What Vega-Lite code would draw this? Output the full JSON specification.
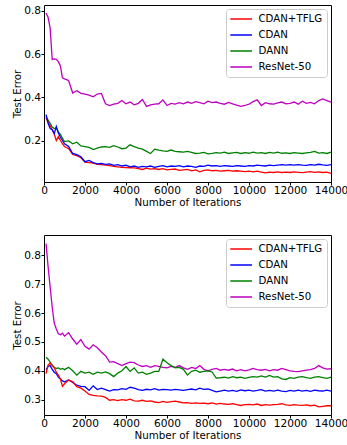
{
"$schema": "https://vega.github.io/schema/vega-lite/v6.json",
"padding": {"left": 12, "top": 4, "right": 0, "bottom": 0},
"config": {
  "font": "DejaVu Sans",
  "view": {"stroke": "#000", "strokeWidth": 1},
  "axis": {"domain": false, "grid": false, "tickColor": "#000", "tickSize": 3, "labelColor": "#000", "labelFontSize": 10.6, "labelPadding": 0.5, "titleColor": "#000", "titleFontSize": 10.3, "titleFontWeight": "normal"},
  "legend": {"orient": "top-right", "offset": 4.2, "fillColor": "#fff", "strokeColor": "#ccc", "cornerRadius": 3, "padding": 4, "symbolType": "M-1.14,0H3.2", "symbolSize": 100, "symbolStrokeWidth": 1.5, "labelFontSize": 10.2, "labelColor": "#000", "labelOffset": 16.5, "rowPadding": 4, "title": null}
},
"datasets": {
"top": [
{"method":"ResNet-50","iter":100,"err":0.790},{"method":"ResNet-50","iter":200,"err":0.770},{"method":"ResNet-50","iter":300,"err":0.720},{"method":"ResNet-50","iter":400,"err":0.575},{"method":"ResNet-50","iter":500,"err":0.578},{"method":"ResNet-50","iter":600,"err":0.576},{"method":"ResNet-50","iter":700,"err":0.565},{"method":"ResNet-50","iter":800,"err":0.545},{"method":"ResNet-50","iter":900,"err":0.490},{"method":"ResNet-50","iter":1000,"err":0.485},
{"method":"ResNet-50","iter":1200,"err":0.478},{"method":"ResNet-50","iter":1400,"err":0.420},{"method":"ResNet-50","iter":1600,"err":0.430},{"method":"ResNet-50","iter":1800,"err":0.418},{"method":"ResNet-50","iter":2000,"err":0.415},{"method":"ResNet-50","iter":2200,"err":0.410},{"method":"ResNet-50","iter":2400,"err":0.402},{"method":"ResNet-50","iter":2600,"err":0.415},{"method":"ResNet-50","iter":2800,"err":0.418},{"method":"ResNet-50","iter":3000,"err":0.370},
{"method":"ResNet-50","iter":3200,"err":0.362},{"method":"ResNet-50","iter":3400,"err":0.368},{"method":"ResNet-50","iter":3600,"err":0.372},{"method":"ResNet-50","iter":3800,"err":0.385},{"method":"ResNet-50","iter":4000,"err":0.370},{"method":"ResNet-50","iter":4200,"err":0.378},{"method":"ResNet-50","iter":4400,"err":0.365},{"method":"ResNet-50","iter":4600,"err":0.372},{"method":"ResNet-50","iter":4800,"err":0.390},{"method":"ResNet-50","iter":5000,"err":0.358},
{"method":"ResNet-50","iter":5200,"err":0.365},{"method":"ResNet-50","iter":5400,"err":0.368},{"method":"ResNet-50","iter":5600,"err":0.370},{"method":"ResNet-50","iter":5800,"err":0.388},{"method":"ResNet-50","iter":6000,"err":0.362},{"method":"ResNet-50","iter":6200,"err":0.372},{"method":"ResNet-50","iter":6400,"err":0.368},{"method":"ResNet-50","iter":6600,"err":0.375},{"method":"ResNet-50","iter":6800,"err":0.370},{"method":"ResNet-50","iter":7000,"err":0.378},
{"method":"ResNet-50","iter":7200,"err":0.372},{"method":"ResNet-50","iter":7400,"err":0.380},{"method":"ResNet-50","iter":7600,"err":0.375},{"method":"ResNet-50","iter":7800,"err":0.370},{"method":"ResNet-50","iter":8000,"err":0.382},{"method":"ResNet-50","iter":8200,"err":0.375},{"method":"ResNet-50","iter":8400,"err":0.378},{"method":"ResNet-50","iter":8600,"err":0.372},{"method":"ResNet-50","iter":8800,"err":0.368},{"method":"ResNet-50","iter":9000,"err":0.376},
{"method":"ResNet-50","iter":9200,"err":0.370},{"method":"ResNet-50","iter":9400,"err":0.364},{"method":"ResNet-50","iter":9600,"err":0.358},{"method":"ResNet-50","iter":9800,"err":0.362},{"method":"ResNet-50","iter":10000,"err":0.368},{"method":"ResNet-50","iter":10200,"err":0.380},{"method":"ResNet-50","iter":10400,"err":0.388},{"method":"ResNet-50","iter":10600,"err":0.362},{"method":"ResNet-50","iter":10800,"err":0.375},{"method":"ResNet-50","iter":11000,"err":0.370},
{"method":"ResNet-50","iter":11200,"err":0.368},{"method":"ResNet-50","iter":11400,"err":0.374},{"method":"ResNet-50","iter":11600,"err":0.378},{"method":"ResNet-50","iter":11800,"err":0.370},{"method":"ResNet-50","iter":12000,"err":0.372},{"method":"ResNet-50","iter":12200,"err":0.378},{"method":"ResNet-50","iter":12400,"err":0.368},{"method":"ResNet-50","iter":12600,"err":0.382},{"method":"ResNet-50","iter":12800,"err":0.372},{"method":"ResNet-50","iter":13000,"err":0.376},
{"method":"ResNet-50","iter":13200,"err":0.370},{"method":"ResNet-50","iter":13400,"err":0.385},{"method":"ResNet-50","iter":13600,"err":0.392},{"method":"ResNet-50","iter":13800,"err":0.385},{"method":"ResNet-50","iter":14000,"err":0.378},

{"method":"DANN","iter":100,"err":0.310},{"method":"DANN","iter":200,"err":0.295},{"method":"DANN","iter":300,"err":0.280},{"method":"DANN","iter":400,"err":0.262},{"method":"DANN","iter":500,"err":0.255},{"method":"DANN","iter":600,"err":0.258},{"method":"DANN","iter":700,"err":0.240},{"method":"DANN","iter":800,"err":0.228},{"method":"DANN","iter":900,"err":0.210},{"method":"DANN","iter":1000,"err":0.195},
{"method":"DANN","iter":1200,"err":0.198},{"method":"DANN","iter":1400,"err":0.185},{"method":"DANN","iter":1600,"err":0.192},{"method":"DANN","iter":1800,"err":0.175},{"method":"DANN","iter":2000,"err":0.172},{"method":"DANN","iter":2200,"err":0.168},{"method":"DANN","iter":2400,"err":0.158},{"method":"DANN","iter":2600,"err":0.165},{"method":"DANN","iter":2800,"err":0.170},{"method":"DANN","iter":3000,"err":0.172},
{"method":"DANN","iter":3200,"err":0.168},{"method":"DANN","iter":3400,"err":0.176},{"method":"DANN","iter":3600,"err":0.170},{"method":"DANN","iter":3800,"err":0.162},{"method":"DANN","iter":4000,"err":0.165},{"method":"DANN","iter":4200,"err":0.180},{"method":"DANN","iter":4400,"err":0.172},{"method":"DANN","iter":4600,"err":0.165},{"method":"DANN","iter":4800,"err":0.160},{"method":"DANN","iter":5000,"err":0.150},
{"method":"DANN","iter":5200,"err":0.140},{"method":"DANN","iter":5400,"err":0.160},{"method":"DANN","iter":5600,"err":0.155},{"method":"DANN","iter":5800,"err":0.152},{"method":"DANN","iter":6000,"err":0.150},{"method":"DANN","iter":6200,"err":0.156},{"method":"DANN","iter":6400,"err":0.150},{"method":"DANN","iter":6600,"err":0.148},{"method":"DANN","iter":6800,"err":0.146},{"method":"DANN","iter":7000,"err":0.150},
{"method":"DANN","iter":7200,"err":0.145},{"method":"DANN","iter":7400,"err":0.140},{"method":"DANN","iter":7600,"err":0.142},{"method":"DANN","iter":7800,"err":0.145},{"method":"DANN","iter":8000,"err":0.138},{"method":"DANN","iter":8200,"err":0.140},{"method":"DANN","iter":8400,"err":0.144},{"method":"DANN","iter":8600,"err":0.142},{"method":"DANN","iter":8800,"err":0.146},{"method":"DANN","iter":9000,"err":0.140},
{"method":"DANN","iter":9200,"err":0.143},{"method":"DANN","iter":9400,"err":0.145},{"method":"DANN","iter":9600,"err":0.140},{"method":"DANN","iter":9800,"err":0.144},{"method":"DANN","iter":10000,"err":0.141},{"method":"DANN","iter":10200,"err":0.146},{"method":"DANN","iter":10400,"err":0.142},{"method":"DANN","iter":10600,"err":0.144},{"method":"DANN","iter":10800,"err":0.140},{"method":"DANN","iter":11000,"err":0.145},
{"method":"DANN","iter":11200,"err":0.142},{"method":"DANN","iter":11400,"err":0.146},{"method":"DANN","iter":11600,"err":0.141},{"method":"DANN","iter":11800,"err":0.143},{"method":"DANN","iter":12000,"err":0.140},{"method":"DANN","iter":12200,"err":0.144},{"method":"DANN","iter":12400,"err":0.142},{"method":"DANN","iter":12600,"err":0.140},{"method":"DANN","iter":12800,"err":0.143},{"method":"DANN","iter":13000,"err":0.145},
{"method":"DANN","iter":13200,"err":0.150},{"method":"DANN","iter":13400,"err":0.142},{"method":"DANN","iter":13600,"err":0.144},{"method":"DANN","iter":13800,"err":0.140},{"method":"DANN","iter":14000,"err":0.146},

{"method":"CDAN+TFLG","iter":100,"err":0.305},{"method":"CDAN+TFLG","iter":200,"err":0.285},{"method":"CDAN+TFLG","iter":300,"err":0.268},{"method":"CDAN+TFLG","iter":400,"err":0.250},{"method":"CDAN+TFLG","iter":500,"err":0.230},{"method":"CDAN+TFLG","iter":600,"err":0.200},{"method":"CDAN+TFLG","iter":700,"err":0.218},{"method":"CDAN+TFLG","iter":800,"err":0.200},{"method":"CDAN+TFLG","iter":900,"err":0.185},{"method":"CDAN+TFLG","iter":1000,"err":0.172},
{"method":"CDAN+TFLG","iter":1200,"err":0.162},{"method":"CDAN+TFLG","iter":1400,"err":0.135},{"method":"CDAN+TFLG","iter":1600,"err":0.130},{"method":"CDAN+TFLG","iter":1800,"err":0.120},{"method":"CDAN+TFLG","iter":2000,"err":0.100},{"method":"CDAN+TFLG","iter":2200,"err":0.098},{"method":"CDAN+TFLG","iter":2400,"err":0.095},{"method":"CDAN+TFLG","iter":2600,"err":0.090},{"method":"CDAN+TFLG","iter":2800,"err":0.088},{"method":"CDAN+TFLG","iter":3000,"err":0.086},
{"method":"CDAN+TFLG","iter":3200,"err":0.084},{"method":"CDAN+TFLG","iter":3400,"err":0.080},{"method":"CDAN+TFLG","iter":3600,"err":0.078},{"method":"CDAN+TFLG","iter":3800,"err":0.076},{"method":"CDAN+TFLG","iter":4000,"err":0.075},{"method":"CDAN+TFLG","iter":4200,"err":0.074},{"method":"CDAN+TFLG","iter":4400,"err":0.073},{"method":"CDAN+TFLG","iter":4600,"err":0.070},{"method":"CDAN+TFLG","iter":4800,"err":0.066},{"method":"CDAN+TFLG","iter":5000,"err":0.072},
{"method":"CDAN+TFLG","iter":5200,"err":0.068},{"method":"CDAN+TFLG","iter":5400,"err":0.070},{"method":"CDAN+TFLG","iter":5600,"err":0.066},{"method":"CDAN+TFLG","iter":5800,"err":0.070},{"method":"CDAN+TFLG","iter":6000,"err":0.064},{"method":"CDAN+TFLG","iter":6200,"err":0.066},{"method":"CDAN+TFLG","iter":6400,"err":0.068},{"method":"CDAN+TFLG","iter":6600,"err":0.062},{"method":"CDAN+TFLG","iter":6800,"err":0.064},{"method":"CDAN+TFLG","iter":7000,"err":0.066},
{"method":"CDAN+TFLG","iter":7200,"err":0.060},{"method":"CDAN+TFLG","iter":7400,"err":0.064},{"method":"CDAN+TFLG","iter":7600,"err":0.055},{"method":"CDAN+TFLG","iter":7800,"err":0.062},{"method":"CDAN+TFLG","iter":8000,"err":0.064},{"method":"CDAN+TFLG","iter":8200,"err":0.060},{"method":"CDAN+TFLG","iter":8400,"err":0.062},{"method":"CDAN+TFLG","iter":8600,"err":0.058},{"method":"CDAN+TFLG","iter":8800,"err":0.060},{"method":"CDAN+TFLG","iter":9000,"err":0.062},
{"method":"CDAN+TFLG","iter":9200,"err":0.058},{"method":"CDAN+TFLG","iter":9400,"err":0.060},{"method":"CDAN+TFLG","iter":9600,"err":0.058},{"method":"CDAN+TFLG","iter":9800,"err":0.056},{"method":"CDAN+TFLG","iter":10000,"err":0.058},{"method":"CDAN+TFLG","iter":10200,"err":0.055},{"method":"CDAN+TFLG","iter":10400,"err":0.058},{"method":"CDAN+TFLG","iter":10600,"err":0.054},{"method":"CDAN+TFLG","iter":10800,"err":0.050},{"method":"CDAN+TFLG","iter":11000,"err":0.054},
{"method":"CDAN+TFLG","iter":11200,"err":0.052},{"method":"CDAN+TFLG","iter":11400,"err":0.055},{"method":"CDAN+TFLG","iter":11600,"err":0.052},{"method":"CDAN+TFLG","iter":11800,"err":0.054},{"method":"CDAN+TFLG","iter":12000,"err":0.052},{"method":"CDAN+TFLG","iter":12200,"err":0.055},{"method":"CDAN+TFLG","iter":12400,"err":0.053},{"method":"CDAN+TFLG","iter":12600,"err":0.051},{"method":"CDAN+TFLG","iter":12800,"err":0.054},{"method":"CDAN+TFLG","iter":13000,"err":0.056},
{"method":"CDAN+TFLG","iter":13200,"err":0.053},{"method":"CDAN+TFLG","iter":13400,"err":0.055},{"method":"CDAN+TFLG","iter":13600,"err":0.052},{"method":"CDAN+TFLG","iter":13800,"err":0.054},{"method":"CDAN+TFLG","iter":14000,"err":0.048},

{"method":"CDAN","iter":100,"err":0.320},{"method":"CDAN","iter":200,"err":0.280},{"method":"CDAN","iter":300,"err":0.255},{"method":"CDAN","iter":400,"err":0.250},{"method":"CDAN","iter":500,"err":0.232},{"method":"CDAN","iter":600,"err":0.265},{"method":"CDAN","iter":700,"err":0.235},{"method":"CDAN","iter":800,"err":0.215},{"method":"CDAN","iter":900,"err":0.200},{"method":"CDAN","iter":1000,"err":0.185},
{"method":"CDAN","iter":1200,"err":0.172},{"method":"CDAN","iter":1400,"err":0.140},{"method":"CDAN","iter":1600,"err":0.135},{"method":"CDAN","iter":1800,"err":0.125},{"method":"CDAN","iter":2000,"err":0.102},{"method":"CDAN","iter":2200,"err":0.108},{"method":"CDAN","iter":2400,"err":0.098},{"method":"CDAN","iter":2600,"err":0.092},{"method":"CDAN","iter":2800,"err":0.094},{"method":"CDAN","iter":3000,"err":0.090},
{"method":"CDAN","iter":3200,"err":0.092},{"method":"CDAN","iter":3400,"err":0.085},{"method":"CDAN","iter":3600,"err":0.088},{"method":"CDAN","iter":3800,"err":0.082},{"method":"CDAN","iter":4000,"err":0.086},{"method":"CDAN","iter":4200,"err":0.078},{"method":"CDAN","iter":4400,"err":0.082},{"method":"CDAN","iter":4600,"err":0.076},{"method":"CDAN","iter":4800,"err":0.080},{"method":"CDAN","iter":5000,"err":0.078},
{"method":"CDAN","iter":5200,"err":0.082},{"method":"CDAN","iter":5400,"err":0.076},{"method":"CDAN","iter":5600,"err":0.080},{"method":"CDAN","iter":5800,"err":0.084},{"method":"CDAN","iter":6000,"err":0.078},{"method":"CDAN","iter":6200,"err":0.082},{"method":"CDAN","iter":6400,"err":0.080},{"method":"CDAN","iter":6600,"err":0.084},{"method":"CDAN","iter":6800,"err":0.078},{"method":"CDAN","iter":7000,"err":0.082},
{"method":"CDAN","iter":7200,"err":0.080},{"method":"CDAN","iter":7400,"err":0.076},{"method":"CDAN","iter":7600,"err":0.082},{"method":"CDAN","iter":7800,"err":0.080},{"method":"CDAN","iter":8000,"err":0.086},{"method":"CDAN","iter":8200,"err":0.082},{"method":"CDAN","iter":8400,"err":0.084},{"method":"CDAN","iter":8600,"err":0.080},{"method":"CDAN","iter":8800,"err":0.084},{"method":"CDAN","iter":9000,"err":0.082},
{"method":"CDAN","iter":9200,"err":0.080},{"method":"CDAN","iter":9400,"err":0.084},{"method":"CDAN","iter":9600,"err":0.082},{"method":"CDAN","iter":9800,"err":0.080},{"method":"CDAN","iter":10000,"err":0.084},{"method":"CDAN","iter":10200,"err":0.082},{"method":"CDAN","iter":10400,"err":0.086},{"method":"CDAN","iter":10600,"err":0.084},{"method":"CDAN","iter":10800,"err":0.082},{"method":"CDAN","iter":11000,"err":0.086},
{"method":"CDAN","iter":11200,"err":0.084},{"method":"CDAN","iter":11400,"err":0.086},{"method":"CDAN","iter":11600,"err":0.088},{"method":"CDAN","iter":11800,"err":0.086},{"method":"CDAN","iter":12000,"err":0.088},{"method":"CDAN","iter":12200,"err":0.086},{"method":"CDAN","iter":12400,"err":0.088},{"method":"CDAN","iter":12600,"err":0.086},{"method":"CDAN","iter":12800,"err":0.085},{"method":"CDAN","iter":13000,"err":0.088},
{"method":"CDAN","iter":13200,"err":0.086},{"method":"CDAN","iter":13400,"err":0.090},{"method":"CDAN","iter":13600,"err":0.087},{"method":"CDAN","iter":13800,"err":0.085},{"method":"CDAN","iter":14000,"err":0.088}
],
"bottom": [
{"method":"ResNet-50","iter":100,"err":0.840},{"method":"ResNet-50","iter":200,"err":0.760},{"method":"ResNet-50","iter":300,"err":0.690},{"method":"ResNet-50","iter":400,"err":0.620},{"method":"ResNet-50","iter":500,"err":0.565},{"method":"ResNet-50","iter":600,"err":0.545},{"method":"ResNet-50","iter":700,"err":0.528},{"method":"ResNet-50","iter":800,"err":0.525},{"method":"ResNet-50","iter":900,"err":0.530},{"method":"ResNet-50","iter":1000,"err":0.520},
{"method":"ResNet-50","iter":1200,"err":0.532},{"method":"ResNet-50","iter":1400,"err":0.510},{"method":"ResNet-50","iter":1600,"err":0.492},{"method":"ResNet-50","iter":1800,"err":0.508},{"method":"ResNet-50","iter":2000,"err":0.485},{"method":"ResNet-50","iter":2200,"err":0.475},{"method":"ResNet-50","iter":2400,"err":0.490},{"method":"ResNet-50","iter":2600,"err":0.480},{"method":"ResNet-50","iter":2800,"err":0.465},{"method":"ResNet-50","iter":3000,"err":0.452},
{"method":"ResNet-50","iter":3200,"err":0.430},{"method":"ResNet-50","iter":3400,"err":0.432},{"method":"ResNet-50","iter":3600,"err":0.425},{"method":"ResNet-50","iter":3800,"err":0.418},{"method":"ResNet-50","iter":4000,"err":0.425},{"method":"ResNet-50","iter":4200,"err":0.430},{"method":"ResNet-50","iter":4400,"err":0.428},{"method":"ResNet-50","iter":4600,"err":0.420},{"method":"ResNet-50","iter":4800,"err":0.415},{"method":"ResNet-50","iter":5000,"err":0.418},
{"method":"ResNet-50","iter":5200,"err":0.412},{"method":"ResNet-50","iter":5400,"err":0.418},{"method":"ResNet-50","iter":5600,"err":0.415},{"method":"ResNet-50","iter":5800,"err":0.412},{"method":"ResNet-50","iter":6000,"err":0.410},{"method":"ResNet-50","iter":6200,"err":0.415},{"method":"ResNet-50","iter":6400,"err":0.412},{"method":"ResNet-50","iter":6600,"err":0.418},{"method":"ResNet-50","iter":6800,"err":0.410},{"method":"ResNet-50","iter":7000,"err":0.405},
{"method":"ResNet-50","iter":7200,"err":0.412},{"method":"ResNet-50","iter":7400,"err":0.408},{"method":"ResNet-50","iter":7600,"err":0.418},{"method":"ResNet-50","iter":7800,"err":0.405},{"method":"ResNet-50","iter":8000,"err":0.400},{"method":"ResNet-50","iter":8200,"err":0.405},{"method":"ResNet-50","iter":8400,"err":0.408},{"method":"ResNet-50","iter":8600,"err":0.402},{"method":"ResNet-50","iter":8800,"err":0.405},{"method":"ResNet-50","iter":9000,"err":0.402},
{"method":"ResNet-50","iter":9200,"err":0.406},{"method":"ResNet-50","iter":9400,"err":0.400},{"method":"ResNet-50","iter":9600,"err":0.404},{"method":"ResNet-50","iter":9800,"err":0.400},{"method":"ResNet-50","iter":10000,"err":0.403},{"method":"ResNet-50","iter":10200,"err":0.408},{"method":"ResNet-50","iter":10400,"err":0.404},{"method":"ResNet-50","iter":10600,"err":0.402},{"method":"ResNet-50","iter":10800,"err":0.405},{"method":"ResNet-50","iter":11000,"err":0.400},
{"method":"ResNet-50","iter":11200,"err":0.404},{"method":"ResNet-50","iter":11400,"err":0.402},{"method":"ResNet-50","iter":11600,"err":0.408},{"method":"ResNet-50","iter":11800,"err":0.404},{"method":"ResNet-50","iter":12000,"err":0.400},{"method":"ResNet-50","iter":12200,"err":0.398},{"method":"ResNet-50","iter":12400,"err":0.397},{"method":"ResNet-50","iter":12600,"err":0.400},{"method":"ResNet-50","iter":12800,"err":0.402},{"method":"ResNet-50","iter":13000,"err":0.404},
{"method":"ResNet-50","iter":13200,"err":0.408},{"method":"ResNet-50","iter":13400,"err":0.418},{"method":"ResNet-50","iter":13600,"err":0.410},{"method":"ResNet-50","iter":13800,"err":0.406},{"method":"ResNet-50","iter":14000,"err":0.407},

{"method":"DANN","iter":100,"err":0.447},{"method":"DANN","iter":200,"err":0.440},{"method":"DANN","iter":300,"err":0.430},{"method":"DANN","iter":400,"err":0.420},{"method":"DANN","iter":500,"err":0.412},{"method":"DANN","iter":600,"err":0.408},{"method":"DANN","iter":700,"err":0.410},{"method":"DANN","iter":800,"err":0.405},{"method":"DANN","iter":900,"err":0.408},{"method":"DANN","iter":1000,"err":0.404},
{"method":"DANN","iter":1200,"err":0.412},{"method":"DANN","iter":1400,"err":0.400},{"method":"DANN","iter":1600,"err":0.385},{"method":"DANN","iter":1800,"err":0.398},{"method":"DANN","iter":2000,"err":0.392},{"method":"DANN","iter":2200,"err":0.395},{"method":"DANN","iter":2400,"err":0.388},{"method":"DANN","iter":2600,"err":0.395},{"method":"DANN","iter":2800,"err":0.392},{"method":"DANN","iter":3000,"err":0.396},
{"method":"DANN","iter":3200,"err":0.390},{"method":"DANN","iter":3400,"err":0.380},{"method":"DANN","iter":3600,"err":0.392},{"method":"DANN","iter":3800,"err":0.400},{"method":"DANN","iter":4000,"err":0.415},{"method":"DANN","iter":4200,"err":0.398},{"method":"DANN","iter":4400,"err":0.410},{"method":"DANN","iter":4600,"err":0.392},{"method":"DANN","iter":4800,"err":0.395},{"method":"DANN","iter":5000,"err":0.388},
{"method":"DANN","iter":5200,"err":0.392},{"method":"DANN","iter":5400,"err":0.398},{"method":"DANN","iter":5600,"err":0.398},{"method":"DANN","iter":5800,"err":0.440},{"method":"DANN","iter":6000,"err":0.428},{"method":"DANN","iter":6200,"err":0.418},{"method":"DANN","iter":6400,"err":0.410},{"method":"DANN","iter":6600,"err":0.412},{"method":"DANN","iter":6800,"err":0.405},{"method":"DANN","iter":7000,"err":0.385},
{"method":"DANN","iter":7200,"err":0.398},{"method":"DANN","iter":7400,"err":0.402},{"method":"DANN","iter":7600,"err":0.395},{"method":"DANN","iter":7800,"err":0.398},{"method":"DANN","iter":8000,"err":0.400},{"method":"DANN","iter":8200,"err":0.396},{"method":"DANN","iter":8400,"err":0.375},{"method":"DANN","iter":8600,"err":0.376},{"method":"DANN","iter":8800,"err":0.378},{"method":"DANN","iter":9000,"err":0.375},
{"method":"DANN","iter":9200,"err":0.380},{"method":"DANN","iter":9400,"err":0.376},{"method":"DANN","iter":9600,"err":0.378},{"method":"DANN","iter":9800,"err":0.374},{"method":"DANN","iter":10000,"err":0.377},{"method":"DANN","iter":10200,"err":0.380},{"method":"DANN","iter":10400,"err":0.378},{"method":"DANN","iter":10600,"err":0.382},{"method":"DANN","iter":10800,"err":0.378},{"method":"DANN","iter":11000,"err":0.384},
{"method":"DANN","iter":11200,"err":0.378},{"method":"DANN","iter":11400,"err":0.380},{"method":"DANN","iter":11600,"err":0.372},{"method":"DANN","iter":11800,"err":0.370},{"method":"DANN","iter":12000,"err":0.376},{"method":"DANN","iter":12200,"err":0.374},{"method":"DANN","iter":12400,"err":0.378},{"method":"DANN","iter":12600,"err":0.380},{"method":"DANN","iter":12800,"err":0.376},{"method":"DANN","iter":13000,"err":0.374},
{"method":"DANN","iter":13200,"err":0.378},{"method":"DANN","iter":13400,"err":0.380},{"method":"DANN","iter":13600,"err":0.376},{"method":"DANN","iter":13800,"err":0.374},{"method":"DANN","iter":14000,"err":0.378},

{"method":"CDAN","iter":100,"err":0.404},{"method":"CDAN","iter":200,"err":0.415},{"method":"CDAN","iter":300,"err":0.418},{"method":"CDAN","iter":400,"err":0.405},{"method":"CDAN","iter":500,"err":0.395},{"method":"CDAN","iter":600,"err":0.390},{"method":"CDAN","iter":700,"err":0.378},{"method":"CDAN","iter":800,"err":0.372},{"method":"CDAN","iter":900,"err":0.365},{"method":"CDAN","iter":1000,"err":0.362},
{"method":"CDAN","iter":1200,"err":0.368},{"method":"CDAN","iter":1400,"err":0.360},{"method":"CDAN","iter":1600,"err":0.350},{"method":"CDAN","iter":1800,"err":0.346},{"method":"CDAN","iter":2000,"err":0.345},{"method":"CDAN","iter":2200,"err":0.332},{"method":"CDAN","iter":2400,"err":0.348},{"method":"CDAN","iter":2600,"err":0.335},{"method":"CDAN","iter":2800,"err":0.340},{"method":"CDAN","iter":3000,"err":0.335},
{"method":"CDAN","iter":3200,"err":0.330},{"method":"CDAN","iter":3400,"err":0.335},{"method":"CDAN","iter":3600,"err":0.334},{"method":"CDAN","iter":3800,"err":0.338},{"method":"CDAN","iter":4000,"err":0.336},{"method":"CDAN","iter":4200,"err":0.343},{"method":"CDAN","iter":4400,"err":0.340},{"method":"CDAN","iter":4600,"err":0.335},{"method":"CDAN","iter":4800,"err":0.332},{"method":"CDAN","iter":5000,"err":0.336},
{"method":"CDAN","iter":5200,"err":0.334},{"method":"CDAN","iter":5400,"err":0.338},{"method":"CDAN","iter":5600,"err":0.333},{"method":"CDAN","iter":5800,"err":0.336},{"method":"CDAN","iter":6000,"err":0.335},{"method":"CDAN","iter":6200,"err":0.333},{"method":"CDAN","iter":6400,"err":0.336},{"method":"CDAN","iter":6600,"err":0.334},{"method":"CDAN","iter":6800,"err":0.332},{"method":"CDAN","iter":7000,"err":0.335},
{"method":"CDAN","iter":7200,"err":0.337},{"method":"CDAN","iter":7400,"err":0.334},{"method":"CDAN","iter":7600,"err":0.340},{"method":"CDAN","iter":7800,"err":0.336},{"method":"CDAN","iter":8000,"err":0.337},{"method":"CDAN","iter":8200,"err":0.332},{"method":"CDAN","iter":8400,"err":0.327},{"method":"CDAN","iter":8600,"err":0.330},{"method":"CDAN","iter":8800,"err":0.333},{"method":"CDAN","iter":9000,"err":0.330},
{"method":"CDAN","iter":9200,"err":0.332},{"method":"CDAN","iter":9400,"err":0.329},{"method":"CDAN","iter":9600,"err":0.334},{"method":"CDAN","iter":9800,"err":0.331},{"method":"CDAN","iter":10000,"err":0.333},{"method":"CDAN","iter":10200,"err":0.330},{"method":"CDAN","iter":10400,"err":0.332},{"method":"CDAN","iter":10600,"err":0.335},{"method":"CDAN","iter":10800,"err":0.330},{"method":"CDAN","iter":11000,"err":0.332},
{"method":"CDAN","iter":11200,"err":0.330},{"method":"CDAN","iter":11400,"err":0.333},{"method":"CDAN","iter":11600,"err":0.330},{"method":"CDAN","iter":11800,"err":0.328},{"method":"CDAN","iter":12000,"err":0.332},{"method":"CDAN","iter":12200,"err":0.330},{"method":"CDAN","iter":12400,"err":0.333},{"method":"CDAN","iter":12600,"err":0.330},{"method":"CDAN","iter":12800,"err":0.332},{"method":"CDAN","iter":13000,"err":0.329},
{"method":"CDAN","iter":13200,"err":0.333},{"method":"CDAN","iter":13400,"err":0.331},{"method":"CDAN","iter":13600,"err":0.330},{"method":"CDAN","iter":13800,"err":0.333},{"method":"CDAN","iter":14000,"err":0.330},

{"method":"CDAN+TFLG","iter":100,"err":0.390},{"method":"CDAN+TFLG","iter":200,"err":0.420},{"method":"CDAN+TFLG","iter":300,"err":0.427},{"method":"CDAN+TFLG","iter":400,"err":0.418},{"method":"CDAN+TFLG","iter":500,"err":0.410},{"method":"CDAN+TFLG","iter":600,"err":0.395},{"method":"CDAN+TFLG","iter":700,"err":0.385},{"method":"CDAN+TFLG","iter":800,"err":0.372},{"method":"CDAN+TFLG","iter":900,"err":0.346},{"method":"CDAN+TFLG","iter":1000,"err":0.355},
{"method":"CDAN+TFLG","iter":1200,"err":0.368},{"method":"CDAN+TFLG","iter":1400,"err":0.362},{"method":"CDAN+TFLG","iter":1600,"err":0.345},{"method":"CDAN+TFLG","iter":1800,"err":0.340},{"method":"CDAN+TFLG","iter":2000,"err":0.330},{"method":"CDAN+TFLG","iter":2200,"err":0.318},{"method":"CDAN+TFLG","iter":2400,"err":0.315},{"method":"CDAN+TFLG","iter":2600,"err":0.313},{"method":"CDAN+TFLG","iter":2800,"err":0.312},{"method":"CDAN+TFLG","iter":3000,"err":0.308},
{"method":"CDAN+TFLG","iter":3200,"err":0.298},{"method":"CDAN+TFLG","iter":3400,"err":0.300},{"method":"CDAN+TFLG","iter":3600,"err":0.297},{"method":"CDAN+TFLG","iter":3800,"err":0.300},{"method":"CDAN+TFLG","iter":4000,"err":0.298},{"method":"CDAN+TFLG","iter":4200,"err":0.302},{"method":"CDAN+TFLG","iter":4400,"err":0.296},{"method":"CDAN+TFLG","iter":4600,"err":0.295},{"method":"CDAN+TFLG","iter":4800,"err":0.298},{"method":"CDAN+TFLG","iter":5000,"err":0.294},
{"method":"CDAN+TFLG","iter":5200,"err":0.296},{"method":"CDAN+TFLG","iter":5400,"err":0.292},{"method":"CDAN+TFLG","iter":5600,"err":0.290},{"method":"CDAN+TFLG","iter":5800,"err":0.294},{"method":"CDAN+TFLG","iter":6000,"err":0.291},{"method":"CDAN+TFLG","iter":6200,"err":0.293},{"method":"CDAN+TFLG","iter":6400,"err":0.295},{"method":"CDAN+TFLG","iter":6600,"err":0.292},{"method":"CDAN+TFLG","iter":6800,"err":0.289},{"method":"CDAN+TFLG","iter":7000,"err":0.290},
{"method":"CDAN+TFLG","iter":7200,"err":0.287},{"method":"CDAN+TFLG","iter":7400,"err":0.289},{"method":"CDAN+TFLG","iter":7600,"err":0.287},{"method":"CDAN+TFLG","iter":7800,"err":0.288},{"method":"CDAN+TFLG","iter":8000,"err":0.286},{"method":"CDAN+TFLG","iter":8200,"err":0.289},{"method":"CDAN+TFLG","iter":8400,"err":0.285},{"method":"CDAN+TFLG","iter":8600,"err":0.287},{"method":"CDAN+TFLG","iter":8800,"err":0.285},{"method":"CDAN+TFLG","iter":9000,"err":0.284},
{"method":"CDAN+TFLG","iter":9200,"err":0.286},{"method":"CDAN+TFLG","iter":9400,"err":0.283},{"method":"CDAN+TFLG","iter":9600,"err":0.280},{"method":"CDAN+TFLG","iter":9800,"err":0.283},{"method":"CDAN+TFLG","iter":10000,"err":0.284},{"method":"CDAN+TFLG","iter":10200,"err":0.282},{"method":"CDAN+TFLG","iter":10400,"err":0.285},{"method":"CDAN+TFLG","iter":10600,"err":0.280},{"method":"CDAN+TFLG","iter":10800,"err":0.283},{"method":"CDAN+TFLG","iter":11000,"err":0.281},
{"method":"CDAN+TFLG","iter":11200,"err":0.283},{"method":"CDAN+TFLG","iter":11400,"err":0.284},{"method":"CDAN+TFLG","iter":11600,"err":0.286},{"method":"CDAN+TFLG","iter":11800,"err":0.282},{"method":"CDAN+TFLG","iter":12000,"err":0.280},{"method":"CDAN+TFLG","iter":12200,"err":0.283},{"method":"CDAN+TFLG","iter":12400,"err":0.281},{"method":"CDAN+TFLG","iter":12600,"err":0.280},{"method":"CDAN+TFLG","iter":12800,"err":0.282},{"method":"CDAN+TFLG","iter":13000,"err":0.279},
{"method":"CDAN+TFLG","iter":13200,"err":0.281},{"method":"CDAN+TFLG","iter":13400,"err":0.275},{"method":"CDAN+TFLG","iter":13600,"err":0.277},{"method":"CDAN+TFLG","iter":13800,"err":0.279},{"method":"CDAN+TFLG","iter":14000,"err":0.279}
]
},
"spacing": 26,
"resolve": {"scale": {"y": "independent", "color": "independent"}, "legend": {"color": "independent"}},
"vconcat": [
  {
    "data": {"name": "top"},
    "width": 287, "height": 177,
    "mark": {"type": "line", "strokeWidth": 1.3},
    "encoding": {
      "x": {"field": "iter", "type": "quantitative", "scale": {"domain": [0, 14000], "nice": false}, "axis": {"title": "Number of Iterations", "values": [0,2000,4000,6000,8000,10000,12000,14000], "format": "d", "labelFlush": false, "labelOverlap": false, "titlePadding": 1}},
      "y": {"field": "err", "type": "quantitative", "scale": {"domain": [0.008, 0.827], "nice": false, "zero": false}, "axis": {"title": "Test Error", "values": [0.2,0.4,0.6,0.8], "format": ".1f", "titlePadding": 1}},
      "color": {"field": "method", "type": "nominal", "scale": {"domain": ["CDAN+TFLG","CDAN","DANN","ResNet-50"], "range": ["#ff0000","#0000ff","#008000","#bf00bf"]}}
    }
  },
  {
    "data": {"name": "bottom"},
    "width": 287, "height": 180,
    "mark": {"type": "line", "strokeWidth": 1.3},
    "encoding": {
      "x": {"field": "iter", "type": "quantitative", "scale": {"domain": [0, 14000], "nice": false}, "axis": {"title": "Number of Iterations", "values": [0,2000,4000,6000,8000,10000,12000,14000], "format": "d", "labelFlush": false, "labelOverlap": false, "titlePadding": 1}},
      "y": {"field": "err", "type": "quantitative", "scale": {"domain": [0.247, 0.870], "nice": false, "zero": false}, "axis": {"title": "Test Error", "values": [0.3,0.4,0.5,0.6,0.7,0.8], "format": ".1f", "titlePadding": 1}},
      "color": {"field": "method", "type": "nominal", "scale": {"domain": ["CDAN+TFLG","CDAN","DANN","ResNet-50"], "range": ["#ff0000","#0000ff","#008000","#bf00bf"]}}
    }
  }
]
}
